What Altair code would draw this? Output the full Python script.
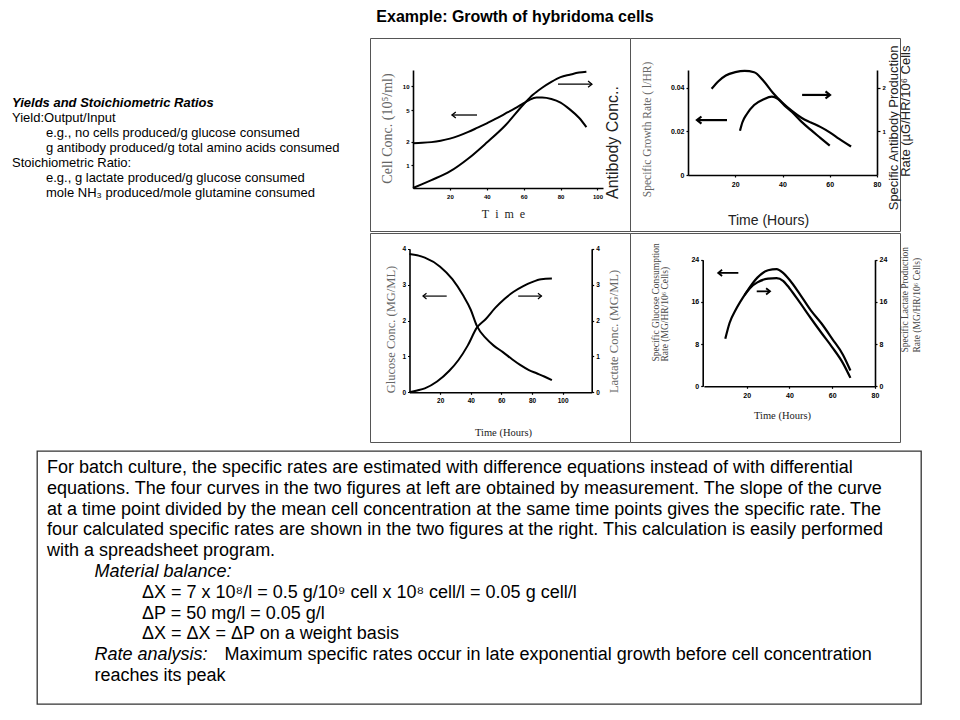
import altair as alt
import pandas as pd

# ---------------- text content ----------------
TITLE = "Example:  Growth of hybridoma cells"

LEFT_LINES = [
    "Yields and Stoichiometric Ratios",
    "Yield:Output/Input",
    "e.g., no cells produced/g glucose consumed",
    "g antibody produced/g total amino acids consumed",
    "Stoichiometric Ratio:",
    "e.g., g lactate produced/g glucose consumed",
    "mole NH₃ produced/mole glutamine consumed",
]
LEFT_LEVEL = [0, 0, 1, 1, 0, 1, 1]
LEFT_STYLE = ["head", "plain", "plain", "plain", "plain", "plain", "plain"]

BOX_LINES = [
    "For batch culture, the specific rates are estimated with difference equations instead of with differential",
    "equations.  The four curves in the two figures at left are obtained by measurement.  The slope of the curve",
    "at a time point divided by the mean cell concentration at the same time points gives the specific rate.  The",
    "four calculated specific rates are shown in the two figures at the right.  This calculation is easily performed",
    "with a spreadsheet program.",
    "Material balance:",
    "ΔX = 7 x 10⁸/l = 0.5 g/10⁹ cell x 10⁸  cell/l = 0.05 g cell/l",
    "ΔP = 50 mg/l = 0.05 g/l",
    "ΔX = ΔX = ΔP on a weight basis",
    "Rate analysis:",
    "reaches its peak",
]
BOX_LEVEL = [0, 0, 0, 0, 0, 1, 2, 2, 2, 1, 1]
BOX_STYLE = ["plain"] * 5 + ["italic"] + ["plain"] * 3 + ["italic", "plain"]
BOX_TAIL = "Maximum specific rates occur in late exponential growth before cell concentration"
BOX_TAIL_ROW = 9

# ---------------- panel 1: cell conc (log) & antibody ----------------
cell_t = [0, 5, 10, 15, 20, 25, 30, 35, 40, 45, 50, 55, 60, 63, 67, 70, 75, 80, 85, 90, 94]
cell_v = [1.91, 1.93, 1.97, 2.05, 2.18, 2.38, 2.65, 3.0, 3.4, 3.9, 4.5, 5.2, 6.1, 6.7, 7.2, 7.2, 6.9, 6.2, 5.1, 4.0, 3.05]
mab_t = [0, 5, 10, 20, 30, 40, 50, 60, 65, 70, 75, 80, 85, 90, 94]
mab_v = [0, 3.3, 6.7, 14, 25, 38.5, 53, 71, 79, 85, 90, 94, 96, 97.8, 98.6]
p1_arrow_from = [21.1, 78.6]
p1_arrow_to = [34.7, 97.0]
p1_arrow_y = [4.33, 10.6]
p1_arrow_dir = ["L", "R"]

# ---------------- panel 2: specific growth rate & antibody production rate ----------------
mu_t = [10, 13, 16, 20, 24, 28, 32, 36, 40, 44, 48, 52, 56, 60, 64, 69]
mu_v = [0.0394, 0.0430, 0.0455, 0.0470, 0.0476, 0.0470, 0.0430, 0.0375, 0.0330, 0.0293, 0.0262, 0.0240,
        0.0220, 0.0195, 0.0165, 0.0130]
qp_t = [22, 23, 25, 28, 32, 35.5, 38, 41, 44, 48, 52, 56, 60]
qp_v = [1.01, 1.2, 1.4, 1.6, 1.73, 1.79, 1.74, 1.58, 1.44, 1.22, 1.03, 0.85, 0.67]
p2_arrow_from = [3.8, 48.3]
p2_arrow_to = [16.5, 60.1]
p2_arrow_y = [0.0251, 0.0366]
p2_arrow_dir = ["L", "R"]

# ---------------- panel 3: glucose & lactate conc ----------------
glc_t = [0, 10, 20, 28, 35, 40, 44, 50, 55, 61, 67, 72, 78, 83, 88, 93]
glc_v = [3.85, 3.75, 3.5, 3.15, 2.7, 2.3, 1.85, 1.5, 1.3, 1.12, 0.92, 0.77, 0.62, 0.53, 0.44, 0.34]
lac_t = [0, 5, 10, 18, 26, 32, 38, 44, 50, 56, 62, 68, 74, 80, 86, 93]
lac_v = [0.0, 0.05, 0.11, 0.3, 0.6, 0.9, 1.3, 1.8, 2.05, 2.35, 2.6, 2.8, 2.95, 3.07, 3.15, 3.17]
p3_arrow_from = [8.8, 71.0]
p3_arrow_to = [24.3, 86.2]
p3_arrow_y = [2.68, 2.68]
p3_arrow_dir = ["L", "R"]

# ---------------- panel 4: specific glucose consumption & lactate production ----------------
qg_t = [10, 12, 15, 20, 25, 30, 34, 37, 40, 45, 50, 55, 60, 65, 68.5]
qg_v = [9.0, 12.0, 14.6, 17.9, 20.6, 22.0, 22.2, 21.5, 20.2, 17.4, 14.4, 11.9, 9.0, 6.0, 3.0]
ql_t = [19, 22, 25, 30, 34, 37, 40, 45, 50, 55, 60, 65, 68.5]
ql_v = [17.3, 18.8, 19.7, 20.4, 20.5, 20.0, 18.6, 15.8, 12.9, 10.1, 7.4, 4.4, 1.6]
p4_arrow_from = [6.7, 24.7]
p4_arrow_to = [16.1, 30.9]
p4_arrow_y = [21.5, 18.0]
p4_arrow_dir = ["L", "R"]

SANS = "Liberation Sans"
SERIF = "Liberation Serif"
PATH_L = "M1,-0.8L0,0L1,0.8"
PATH_R = "M-1,-0.8L0,0L-1,0.8"

H_TOP = 193   # height of the upper row of panels
H_BOT = 209   # height of the lower row of panels

PANEL_VIEW = alt.ViewBackground(stroke="#555555", strokeWidth=1, fill="white")
NO_VIEW = alt.ViewBackground(stroke="transparent")


def ax(**kw):
    base = dict(grid=False, domainColor="black", domainWidth=1.6, tickColor="black", tickWidth=1.2,
                tickSize=2, labelFont=SANS, labelFontWeight="bold", labelFontSize=7, labelColor="black",
                labelPadding=2, labelFlush=False, titleFontWeight="normal", titleAngle=0,
                titleAlign="center", titleBaseline="middle")
    base.update(kw)
    return alt.Axis(**base)


def series(t, v):
    return pd.DataFrame({"t": t, "v": v})


def line(t, v, xs, xa, ys, ya, width=2.0):
    return alt.Chart(series(t, v)).mark_line(color="black", strokeWidth=width, interpolate="monotone").encode(
        x=alt.X("t:Q", scale=xs, axis=xa),
        y=alt.Y("v:Q", scale=ys, axis=ya),
    )


def arrows(a_from, a_to, a_y, a_dir, xs, xa, ys, ya, width, size):
    df = pd.DataFrame({"x1": a_from, "x2": a_to, "v": a_y, "dir": a_dir})
    df["tip"] = [f if d == "L" else e for f, e, d in zip(a_from, a_to, a_dir)]
    rule = alt.Chart(df).mark_rule(color="black", strokeWidth=width).encode(
        x=alt.X("x1:Q", scale=xs, axis=xa), x2="x2:Q", y=alt.Y("v:Q", scale=ys, axis=ya))
    head = alt.Chart(df).mark_point(filled=False, color="black", strokeWidth=width, size=size, opacity=1).encode(
        x=alt.X("tip:Q", scale=xs, axis=xa), y=alt.Y("v:Q", scale=ys, axis=ya),
        shape=alt.Shape("dir:N", scale=alt.Scale(domain=["L", "R"], range=[PATH_L, PATH_R]), legend=None))
    return [rule, head]


# ---------- panel 1 ----------
x1s = alt.Scale(domain=[0, 103], range=[43, 233], nice=False, zero=False)
x1a = ax(values=[20, 40, 60, 80, 100], offset=150 - H_TOP, labelFontSize=6, labelPadding=3,
         title="T\u2002i\u2002m\u2002e", titleFont=SERIF, titleFontSize=12, titleColor="#222222",
         titleX=133, titleY=25)
y1s = alt.Scale(type="log", domain=[0.52, 16], range=[150, 32], nice=False)
y1a = ax(values=[1, 2, 5, 10], labelExpr="'' + datum.value", offset=-43, labelFontSize=6,
         title="Cell Conc. (10⁵/ml)", titleFont=SERIF, titleFontSize=14, titleColor="#666666",
         titleAngle=270, titleX=-26, titleY=90)
y1bs = alt.Scale(domain=[0, 100], range=[150, 32], nice=False, zero=False)
y1ba = alt.Axis(orient="right", grid=False, domain=False, ticks=False, labels=False,
                title="Antibody Conc..", titleFont=SANS, titleFontSize=16, titleFontWeight="normal",
                titleColor="#222222", titleAngle=270, titleX=-18, titleY=104, titleAlign="center",
                titleBaseline="middle")
p1_left = alt.layer(line(cell_t, cell_v, x1s, x1a, y1s, y1a),
                    *arrows(p1_arrow_from, p1_arrow_to, p1_arrow_y, p1_arrow_dir, x1s, x1a, y1s, y1a, 1.3, 60))
p1 = alt.layer(p1_left, line(mab_t, mab_v, x1s, x1a, y1bs, y1ba)).resolve_scale(y="independent").properties(
    width=260, height=H_TOP, view=PANEL_VIEW)

# ---------- panel 2 ----------
x2s = alt.Scale(domain=[0, 80], range=[58, 247], nice=False, zero=False)
x2a = ax(values=[20, 40, 60, 80], offset=137 - H_TOP, labelFontSize=7, labelPadding=3,
         title="Time (Hours)", titleFont=SANS, titleFontSize=14, titleColor="#222222", titleX=138, titleY=45)
y2s = alt.Scale(domain=[0, 0.048], range=[137, 32], nice=False, zero=False)
y2a = ax(values=[0, 0.02, 0.04], labelExpr="datum.value == 0 ? '0' : format(datum.value, '.2f')",
         offset=-58, labelFontSize=7, title="Specific Growth Rate ( l/HR)", titleFont=SERIF,
         titleFontSize=11.5, titleColor="#666666", titleAngle=270, titleX=-41, titleY=91)
y2bs = alt.Scale(domain=[0, 2.4], range=[137, 32], nice=False, zero=False)
y2ba = ax(orient="right", values=[1, 2], offset=-23, labelFontSize=6, tickSize=3,
          title=["Specific Antibody Production", "Rate (µG/HR/10⁶ Cells"], titleFont=SANS, titleFontSize=13,
          titleColor="#222222", titleAngle=270, titleAlign="right", titleX=16, titleY=7, titleLineHeight=12)
p2_left = alt.layer(line(mu_t, mu_v, x2s, x2a, y2s, y2a, 2.2),
                    *arrows(p2_arrow_from, p2_arrow_to, p2_arrow_y, p2_arrow_dir, x2s, x2a, y2s, y2a, 2.2, 80))
p2 = alt.layer(p2_left, line(qp_t, qp_v, x2s, x2a, y2bs, y2ba, 2.2)).resolve_scale(y="independent").properties(
    width=270, height=H_TOP, view=PANEL_VIEW)

# ---------- panel 3 ----------
x3s = alt.Scale(domain=[0, 119], range=[39.5, 221.7], nice=False, zero=False)
x3a = ax(values=[20, 40, 60, 80, 100], offset=159.3 - H_BOT, labelFontSize=6.5, labelPadding=3,
         title="Time (Hours)", titleFont=SERIF, titleFontSize=10.5, titleColor="#222222", titleX=133, titleY=39.7)
y3s = alt.Scale(domain=[0, 4], range=[159.3, 15.7], nice=False, zero=False)
y3a = ax(values=[0, 1, 2, 3, 4], offset=-39.5, labelFontSize=6.5,
         title="Glucose Conc. (MG/ML)", titleFont=SERIF, titleFontSize=12.5, titleColor="#666666",
         titleAngle=270, titleX=-19.5, titleY=96)
y3bs = alt.Scale(domain=[0, 4], range=[159.3, 15.7], nice=False, zero=False)
y3ba = ax(orient="right", values=[0, 1, 2, 3, 4], offset=-38.3, labelFontSize=6.5,
          title="Lactate Conc. (MG/ML)", titleFont=SERIF, titleFontSize=12.5, titleColor="#666666",
          titleAngle=270, titleX=21.3, titleY=98)
p3_left = alt.layer(line(glc_t, glc_v, x3s, x3a, y3s, y3a),
                    *arrows(p3_arrow_from, p3_arrow_to, p3_arrow_y, p3_arrow_dir, x3s, x3a, y3s, y3a, 1.2, 50))
p3 = alt.layer(p3_left, line(lac_t, lac_v, x3s, x3a, y3bs, y3ba)).resolve_scale(y="independent").properties(
    width=260, height=H_BOT, view=PANEL_VIEW)

# ---------- panel 4 ----------
x4s = alt.Scale(domain=[0, 80], range=[73.9, 245], nice=False, zero=False)
x4a = ax(values=[20, 40, 60, 80], offset=153.3 - H_BOT, labelFontSize=7, labelPadding=3,
         title="Time (Hours)", titleFont=SERIF, titleFontSize=10.5, titleColor="#222222", titleX=152, titleY=29.4)
y4s = alt.Scale(domain=[0, 24], range=[153.3, 26.7], nice=False, zero=False)
y4a = ax(values=[0, 8, 16, 24], offset=-72.7, labelFontSize=7,
         title=["Specific Glucose Consumption", "Rate (MG/HR/10⁶ Cells)"], titleFont=SERIF, titleFontSize=9.5,
         titleColor="#444444", titleAngle=270, titleAlign="left", titleX=-47.7, titleY=128, titleLineHeight=9)
y4bs = alt.Scale(domain=[0, 24], range=[153.3, 26.7], nice=False, zero=False)
y4ba = ax(orient="right", values=[0, 8, 16, 24], offset=-25, labelFontSize=7,
          title=["Specific Lactate Production", "Rate (MG/HR/10⁶ Cells)"], titleFont=SERIF, titleFontSize=9.5,
          titleColor="#444444", titleAngle=270, titleAlign="left", titleX=29, titleY=119, titleLineHeight=12)
p4_left = alt.layer(line(qg_t, qg_v, x4s, x4a, y4s, y4a, 2.2),
                    *arrows(p4_arrow_from, p4_arrow_to, p4_arrow_y, p4_arrow_dir, x4s, x4a, y4s, y4a, 1.8, 60))
p4 = alt.layer(p4_left, line(ql_t, ql_v, x4s, x4a, y4bs, y4ba, 2.2)).resolve_scale(y="independent").properties(
    width=270, height=H_BOT, view=PANEL_VIEW)

# ---------- title ----------
title_chart = alt.Chart(pd.DataFrame({"text": [TITLE]})).mark_text(
    font=SANS, fontSize=16, fontWeight="bold", align="center", baseline="middle", color="black"
).encode(text="text:N", x=alt.value(145), y=alt.value(8)).properties(width=530, height=27, view=NO_VIEW)

# ---------- left text block ----------
left_df = pd.DataFrame({"text": LEFT_LINES, "lvl": LEFT_LEVEL, "row": list(range(len(LEFT_LINES))),
                        "style": LEFT_STYLE})
lx = alt.X("lvl:Q", scale=alt.Scale(domain=[0, 1], range=[3, 37]), axis=None)
ly = alt.Y("row:Q", scale=alt.Scale(domain=[0, 6], range=[94, 184]), axis=None)
left_head = alt.Chart(left_df).transform_filter("datum.style == 'head'").mark_text(
    font=SANS, fontSize=13, fontWeight="bold", fontStyle="italic", align="left", baseline="middle",
    color="black").encode(x=lx, y=ly, text="text:N")
left_plain = alt.Chart(left_df).transform_filter("datum.style == 'plain'").mark_text(
    font=SANS, fontSize=13, align="left", baseline="middle", color="black").encode(x=lx, y=ly, text="text:N")
left_text = alt.layer(left_head, left_plain).properties(width=359, height=420, view=NO_VIEW)

# ---------- bottom text box ----------
box_df = pd.DataFrame({"text": BOX_LINES, "lvl": BOX_LEVEL, "row": list(range(len(BOX_LINES))),
                       "style": BOX_STYLE})
tail_df = pd.DataFrame({"text": [BOX_TAIL], "lvl": [1], "row": [BOX_TAIL_ROW]})
bx = alt.X("lvl:Q", scale=alt.Scale(domain=[0, 2], range=[10, 105]), axis=None)
by = alt.Y("row:Q", scale=alt.Scale(domain=[0, 10], range=[17, 225]), axis=None)
BOX_FS = 18
box_plain = alt.Chart(box_df).transform_filter("datum.style == 'plain'").mark_text(
    font=SANS, fontSize=BOX_FS, align="left", baseline="middle", color="black").encode(x=bx, y=by, text="text:N")
box_ital = alt.Chart(box_df).transform_filter("datum.style == 'italic'").mark_text(
    font=SANS, fontSize=BOX_FS, fontStyle="italic", align="left", baseline="middle", color="black").encode(
    x=bx, y=by, text="text:N")
box_tail = alt.Chart(tail_df).mark_text(
    font=SANS, fontSize=BOX_FS, align="left", baseline="middle", color="black", dx=130).encode(
    x=bx, y=by, text="text:N")
box = alt.layer(box_plain, box_ital, box_tail).properties(
    width=884, height=253, view=alt.ViewBackground(stroke="#333333", strokeWidth=1.3, fill="white"))

spacer = alt.Chart(pd.DataFrame({"a": [0]})).mark_point(opacity=0).encode(
    x=alt.value(14), y=alt.value(120)).properties(width=28, height=253, view=NO_VIEW)

row1 = alt.hconcat(p1, p2, spacing=0, bounds="flush")
row2 = alt.hconcat(p3, p4, spacing=0, bounds="flush")
right_col = alt.vconcat(title_chart, row1, row2, spacing=0)
rowA = alt.hconcat(left_text, right_col, spacing=0)
rowB = alt.hconcat(spacer, box, spacing=0, bounds="flush")

chart = alt.vconcat(rowA, rowB, spacing=7).properties(padding=0).configure(background="white")

chart.save("out.html", embed_options={"renderer": "svg", "actions": False})
